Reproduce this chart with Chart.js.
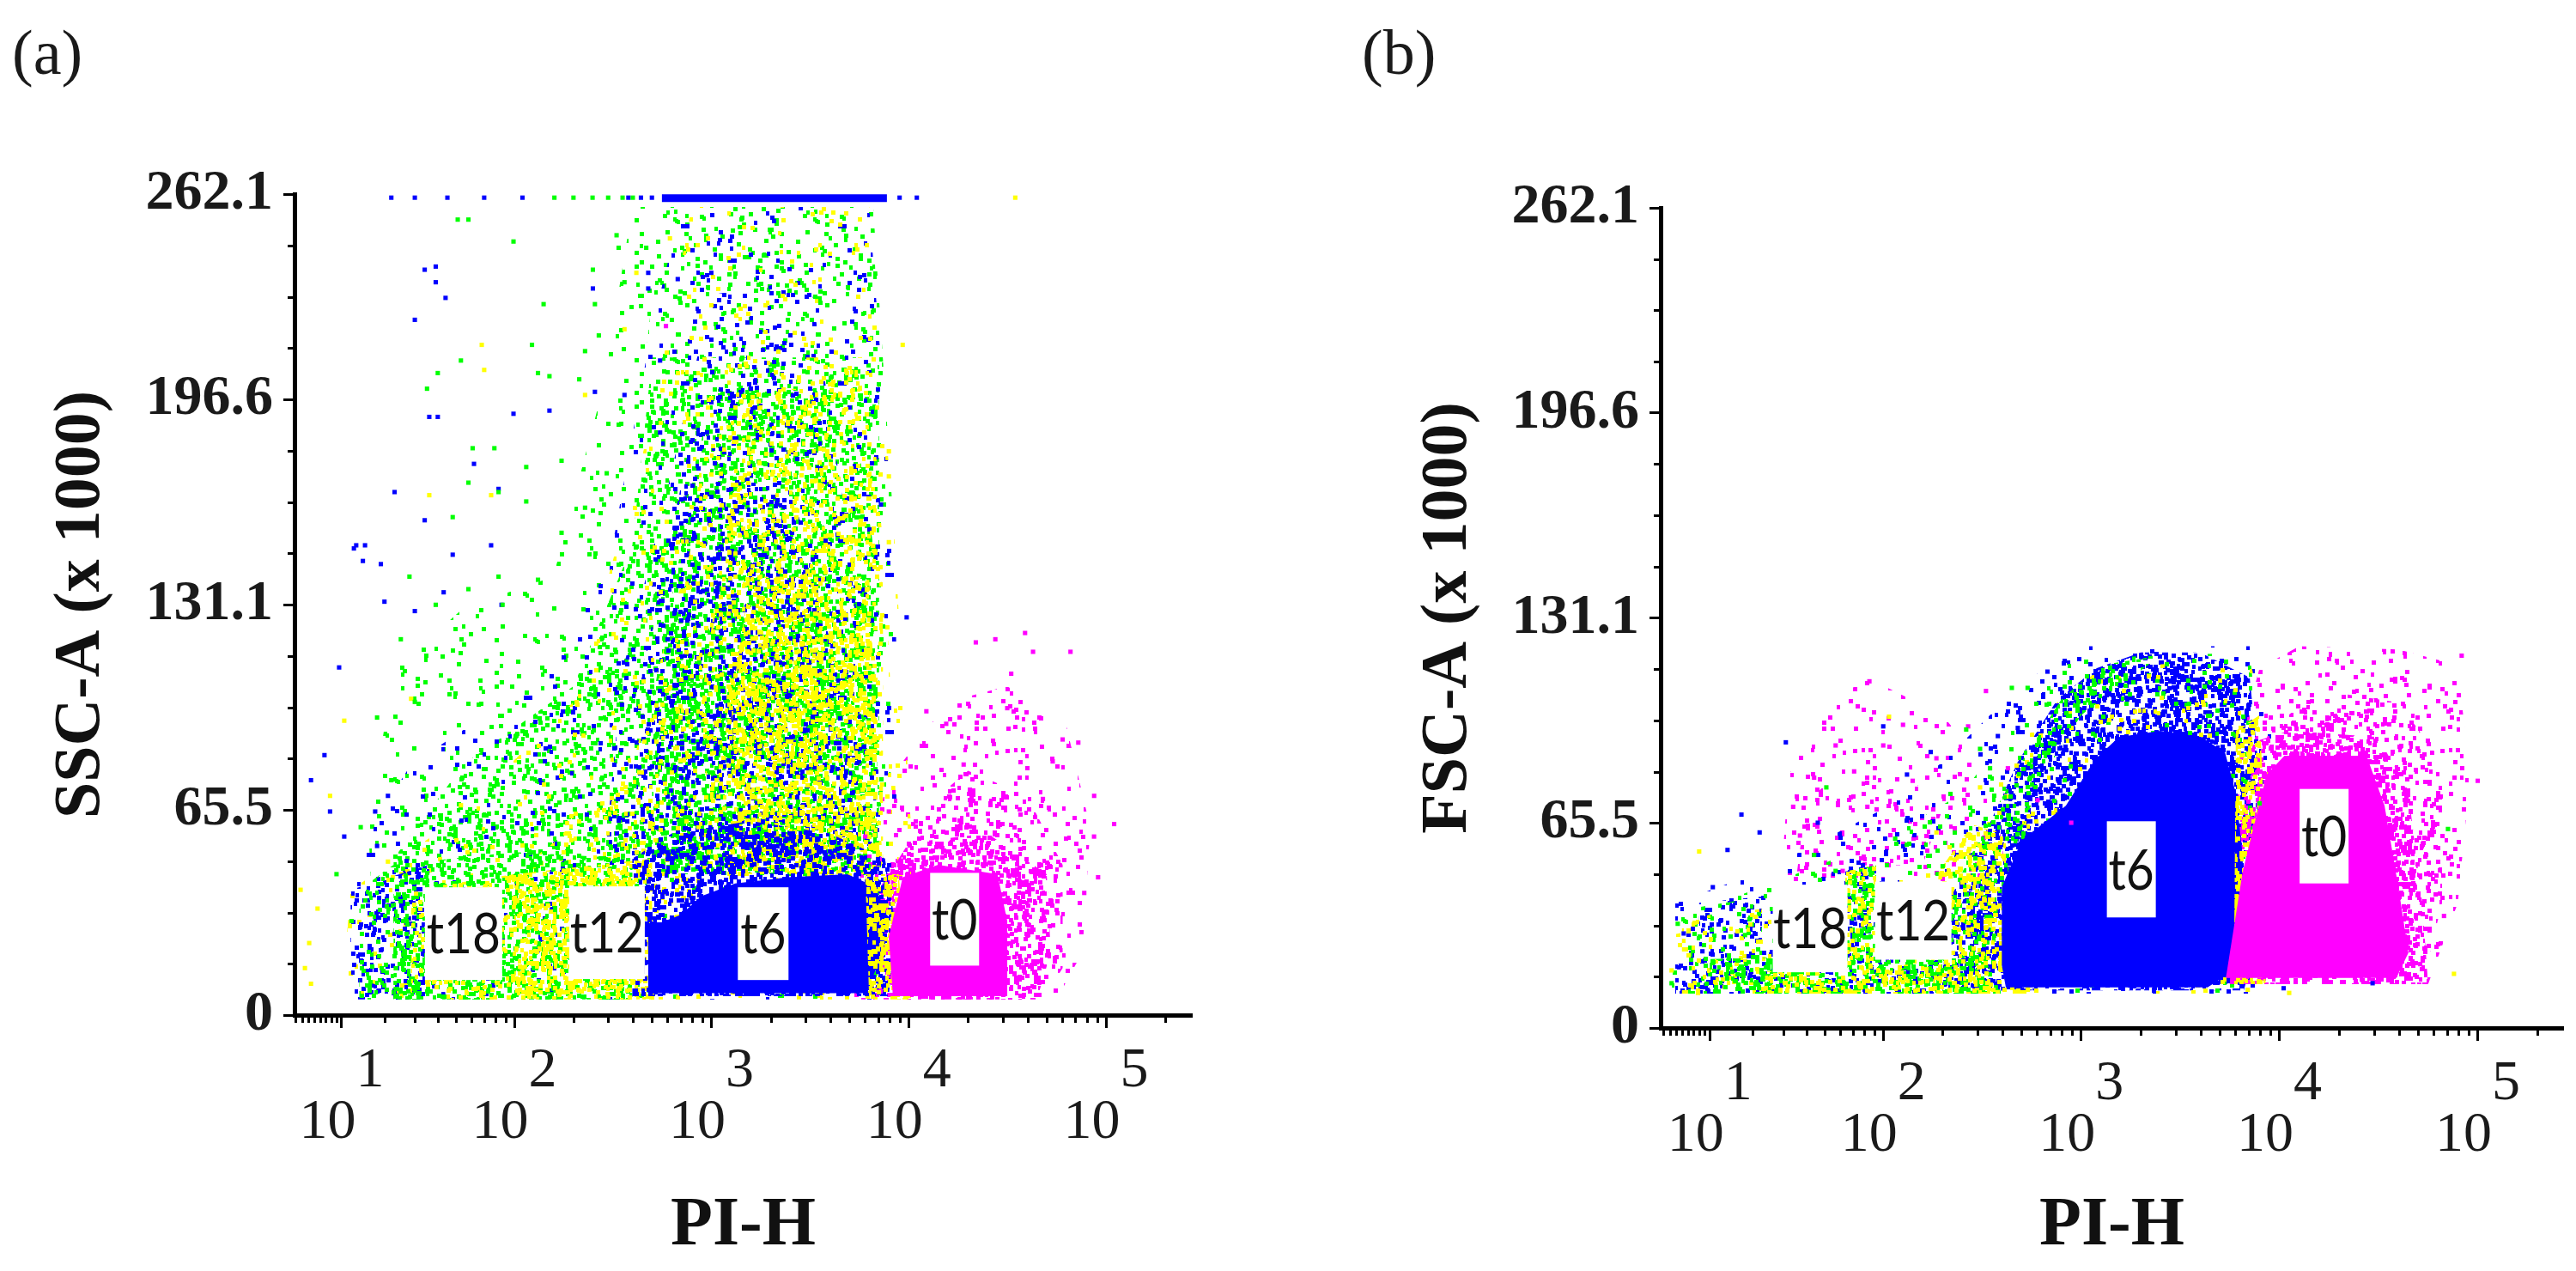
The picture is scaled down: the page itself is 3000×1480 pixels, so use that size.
<!DOCTYPE html>
<html><head><meta charset="utf-8">
<script src="https://cdn.jsdelivr.net/npm/chart.js@4.4.1/dist/chart.umd.min.js"></script>
<style>
html,body{margin:0;padding:0;background:#fff;}
#page{position:relative;width:3000px;height:1480px;overflow:hidden;background:#fff;}
.panel{position:absolute;top:0;width:1500px;height:1480px;}
.tag{position:absolute;top:24px;font-family:"Liberation Serif",serif;font-size:74px;line-height:1;color:#1a1a1a;}
</style></head><body>
<div id="page">
<canvas id="ca" class="panel" style="left:0" width="1500" height="1480"></canvas>
<canvas id="cb" class="panel" style="left:1500px" width="1500" height="1480"></canvas>
<div class="tag" style="left:14px">(a)</div>
<div class="tag" style="left:1586px">(b)</div>
</div>
<script>
// ---------- axis values ----------
const piTicks = [10, 100, 1000, 10000, 100000];
const piTickExp = ['1', '2', '3', '4', '5'];
const sscTicks = [0, 65.536, 131.072, 196.608, 262.144];
const sscTickLabels = ['0', '65.5', '131.1', '196.6', '262.1'];
const populations = ['t0', 't6', 't12', 't18'];

// ---------- panel (a): SSC-A (x1000) vs PI-H, density contours [PI-H, SSC-A] ----------
const ssc_t0_low  = [[5010,5],[5250,40],[7940,75],[15800,100],[31600,105],[63100,92],[83200,60],[75900,20],[56200,5]];
const ssc_t0_mid  = [[6610,5],[6610,35],[10000,62],[20000,78],[39800,70],[60300,48],[60300,15],[47900,5]];
const ssc_t0_high = [[7080,5],[7080,40],[10000,55],[25100,58],[50100,45],[52500,20],[44700,5]];
const ssc_t0_core = [[8320,6],[7940,25],[9330,44],[14100,48],[28200,45],[31600,30],[31600,6]];
const ssc_t6_low  = [[11.8,5],[11.8,50],[28.6,80],[158,110],[316,150],[501,220],[708,258],[6310,258],[8510,150],[8910,60],[9330,5]];
const ssc_t6_left = [[11.8,5],[11.8,40],[35.7,48],[44.3,5]];
const ssc_t6_mid  = [[282,45],[355,110],[562,160],[1000,230],[3160,235],[5010,150],[7080,60],[7080,45]];
const ssc_t6_high = [[398,45],[447,110],[708,170],[2510,170],[3980,120],[6310,45]];
const ssc_t6_near = [[398,6],[398,50],[631,58],[1580,62],[3980,58],[7590,50],[8510,30],[7940,6]];
const ssc_t6_core = [[479,7],[479,28],[700,32],[891,38],[1320,42],[2450,44],[4900,45],[6760,41],[7760,32],[7240,18],[6030,7]];
const ssc_t6_sat  = [[562,259.6],[7760,259.6],[7760,262.1],[562,262.1]];
const ssc_t12_low  = [[10,5],[11.8,40],[44.3,60],[200,100],[501,190],[794,258],[6310,258],[8510,150],[10500,50],[11200,5]];
const ssc_t12_left = [[28.6,5],[28.6,40],[100,45],[100,5]];
const ssc_t12_mid  = [[54.7,5],[61,35],[158,55],[398,80],[794,150],[1000,210],[6310,210],[7590,140],[8910,50],[10000,5]];
const ssc_t12_high = [[1000,45],[891,100],[1260,170],[1580,200],[6310,200],[7410,130],[7410,45]];
const ssc_t12_core = [[1410,45],[1260,100],[1580,140],[6310,140],[7410,45]];
const ssc_t12_band = [[100,5],[100,45],[501,50],[501,5]];
const ssc_t12_edge = [[6310,5],[6030,45],[8910,45],[10000,5]];
const ssc_t18_low  = [[17.9,5],[15.8,60],[22.7,110],[54.7,130],[158,140],[282,200],[398,258],[6610,258],[8510,150],[7940,45],[7080,5]];
const ssc_t18_lband = [[13.7,5],[13.7,40],[22.7,48],[22.7,5]];
const ssc_t18_mid  = [[22.7,5],[22.7,50],[54.7,80],[200,105],[398,150],[501,210],[7080,210],[7080,150],[7080,45],[479,45],[398,5]];
const ssc_t18_top  = [[447,200],[562,258],[6610,258],[7080,200]];
const ssc_t18_high = [[501,45],[501,100],[708,150],[1000,200],[5010,200],[6610,150],[7080,45]];
const ssc_t18_core = [[525,45],[562,130],[6610,130],[7080,45]];
const ssc_t18_band = [[22.7,5],[22.7,48],[100,52],[398,50],[398,5]];

// sparse events, panel (a)
const ssc_t18_dots = [[51,254],[58,254],[99,247],[331,249],[339,245],[468,245],[251,238],[363,234],[141,227],[257,227],[269,217],[123,214],[53,209],[229,212],[40,205],[132,205],[151,204],[35,200],[214,203],[61,181],[79,181],[115,175],[174,177],[58,170],[83,167],[48,159],[115,164],[132,139],[83,140],[28,140],[58,136],[39,131],[87,131],[174,154],[229,162],[295,173],[160,261],[200,261],[250,261],[300,261],[355,261],[400,261],[14,60],[18,95],[22,75],[25,120],[12,30],[9,45],[30,100]];
const ssc_t6_dots = [[39,239],[39,234],[44,229],[30,222],[40,191],[99,192],[151,193],[479,237],[479,232],[251,232],[676,235],[1000,237],[363,198],[550,209],[257,199],[550,186],[62,176],[23,167],[12.5,149],[15,150],[34,158],[48,147],[76,150],[19,144],[43,135],[86,131],[20,132],[13,150],[14.5,145],[9.5,111],[6.8,83],[4.5,75],[7.8,65],[10.5,57],[18,54],[21,70],[34,238],[36,191],[83,168],[30,129],[17.5,65],[9770,127],[7240,163],[22,261],[30,261],[45,261],[70,261],[110,261],[380,261],[440,261],[500,261],[9000,261],[11000,261]];
const ssc_t12_dots = [[68,214],[70,206],[36,166],[76,166],[229,198],[417,237],[363,219],[617,248],[9330,214],[7940,172],[7940,151],[7940,180],[34700,261],[4.2,23],[5.6,34],[7.8,70],[10.5,94],[4.5,10],[28.6,101],[53,67],[21,49],[3.5,15],[2.8,40]];
const ssc_t0_dots = [[21900,119],[27500,120],[38900,122],[66100,116],[72400,87],[53700,81],[47900,69],[87100,70],[110000,61],[31600,98],[15500,93],[12300,97],[9550,78],[19000,80],[60300,88],[87000,57],[91200,44],[77600,39],[6030,57],[7940,65],[33100,109],[42700,116],[589,220]];
const ssc_labelPI  = [54.7, 296, 1832, 17100];
const ssc_labelSSC = [26.0, 26.3, 26.0, 30.6];
const ssc_labelText = ['t18', 't12', 't6', 't0'];

// ---------- panel (b): FSC-A (x1000) vs PI-H ----------
const fsc_t0_left  = [[28.6,40],[32,80],[44.3,100],[82.6,112],[200,100],[355,80],[417,50],[200,42],[82.6,48]];
const fsc_t0_lcore = [[35.7,50],[40,72],[67.2,85],[126,82],[200,70],[158,52],[82.6,52]];
const fsc_t0_low  = [[5010,14],[5620,80],[7940,115],[12600,122],[39800,121],[79400,116],[91200,80],[79400,40],[56200,14]];
const fsc_t0_mid  = [[6030,14],[6310,70],[8910,95],[15800,108],[39800,104],[66100,85],[66100,40],[52500,14]];
const fsc_t0_high = [[5620,14],[6030,60],[7940,92],[11200,95],[31600,93],[44700,75],[52500,40],[56200,14]];
const fsc_t0_core = [[5370,16],[6530,50],[8610,81],[10600,87],[27500,87],[33900,71],[39800,45],[44700,24],[38900,16]];
const fsc_t6_low   = [[3.9,11],[3.9,40],[22.7,50],[100,70],[200,85],[501,110],[1000,122],[7940,122],[9330,90],[9330,11]];
const fsc_t6_band  = [[3.9,11],[3.9,25],[200,25],[224,11]];
const fsc_t6_patch = [[8,11],[8,40],[22.7,42],[22.7,11]];
const fsc_t6_gap   = [[64,12],[64,50],[92,52],[92,12]];
const fsc_t6_left  = [[200,12],[209,40],[316,58],[417,60],[417,12]];
const fsc_t6_mid   = [[224,12],[251,40],[316,60],[479,85],[759,105],[1200,115],[2000,120],[3980,120],[7080,112],[7940,80],[7940,30],[6610,12]];
const fsc_t6_core  = [[417,13],[398,20],[398,45],[501,60],[837,71],[1180,86],[1550,93],[2510,95],[4050,93],[5320,88],[6030,75],[6530,55],[6530,30],[5750,18],[4340,13]];
const fsc_t12_low  = [[2.5,11],[3.9,30],[35.7,38],[158,50],[316,70],[631,100],[1260,115],[7080,118],[8910,90],[9330,11]];
const fsc_t12_patch = [[5,11],[5,35],[22.7,38],[22.7,11]];
const fsc_t12_band = [[22.7,11],[22.7,18],[501,22],[562,11]];
const fsc_t12_gap  = [[64,12],[64,50],[92,52],[92,12]];
const fsc_t12_left = [[178,12],[191,50],[282,65],[417,62],[417,12]];
const fsc_t12_edge = [[5890,14],[6030,95],[7940,100],[8510,60],[8510,14]];
const fsc_t18_low   = [[3.3,11],[3.9,35],[22.7,45],[100,60],[251,75],[501,100],[891,118],[7080,120],[7940,90],[7940,11]];
const fsc_t18_patch = [[6,11],[6,38],[22.7,42],[22.7,11]];
const fsc_t18_band  = [[10,11],[10,22],[316,24],[398,11]];
const fsc_t18_gap   = [[64,12],[64,50],[92,52],[92,12]];
const fsc_t18_slope = [[200,18],[209,40],[316,62],[501,85],[794,105],[1260,116],[2510,119],[1000,100],[631,80],[447,55],[355,30],[316,18]];

const fsc_t18_dots = [[4.3,33.3],[3.3,14.3],[17.9,29.7],[23,16.3],[51,76.9],[57,50.2],[115,60.5],[151,44],[200,51.7],[263,95.4],[447,108.7],[537,108.7],[309,89.2],[7940,71.8],[70800,63.6],[347,83],[219,74.8],[85,31.7],[44,55.3]];
const fsc_t6_dots = [[10.6,45],[13.7,56.9],[17,68.2],[31,91.3],[100,96.4],[46,65.6],[22,62.5],[5.3,30.2],[4.5,19.4],[8.6,24.5],[479,95.9],[676,113.9],[380,93.3],[10500,12.7],[29500,14.3],[132,81],[174,88.2]];
const fsc_t12_dots = [[8,56.4],[7.8,11.2],[3.3,18.4],[107,99.5],[309,76.9],[11200,11.2],[75900,17.3],[27.5,40],[186,62.5],[363,50.2],[6920,12.2]];
const fsc_t0_dots = [[85,110.8],[126,96.9],[100,90.3],[57,90.3],[34,70.7],[44,80],[71,82],[83,70.7],[141,79],[186,86.2],[269,96.4],[331,107.7],[891,65.6],[603,72.8],[427,83],[37,61.5],[62,50.2],[83000,119],[100000,79],[55000,49.2],[67600,35.8],[27500,18.4],[51300,20.4]];
const fsc_labelPI  = [41.9, 142, 1791, 16800];
const fsc_labelFSC = [31.8, 34.3, 50.7, 61.3];
const fsc_labelText = ['t18', 't12', 't6', 't0'];

// ---------- styles ----------
const popStyle = {
  t0:  {color: '#ff00ff', tile: 171, seed: 1},
  t6:  {color: '#0000ff', tile: 183, seed: 2},
  t12: {color: '#ffff00', tile: 197, seed: 3},
  t18: {color: '#00ff00', tile: 163, seed: 4}
};
function frac(v) { return v - Math.floor(v); }
const patternCache = {};
// speckle texture (fill style): perTenK = dots per 10000 px^2
function speckle(pop, perTenK) {
  const st = popStyle[pop];
  const key = pop + '_' + perTenK;
  if (patternCache[key]) return patternCache[key];
  const T = st.tile;
  const c = document.createElement('canvas');
  c.width = T; c.height = T;
  const g = c.getContext('2d');
  g.fillStyle = st.color;
  const n = Math.round(perTenK * T * T / 10000);
  for (let i = 0; i < n; i++) {
    const x = Math.floor(frac(Math.sin((i + 1) * 12.9898 + st.seed * 78.233) * 43758.5453) * T);
    const y = Math.floor(frac(Math.sin((i + 1) * 39.3468 + st.seed * 11.135) * 24634.6345) * T);
    const w = (i % 3 === 0) ? 4 : 5;
    for (const dx of [0, -T]) for (const dy of [0, -T]) g.fillRect(x + dx, y + dy, w, 5);
  }
  return (patternCache[key] = g.createPattern(c, 'repeat'));
}

// ---------- custom biexponential-like (asinh) axis ----------
class AsinhScale extends Chart.Scale {
  static id = 'asinh';
  static defaults = {};
  parse(raw) { const v = +raw; return Number.isFinite(v) ? v : null; }
  determineDataLimits() { this.min = this.options.min; this.max = this.options.max; }
  buildTicks() { return []; }
  getLabelForValue(v) { return String(v); }
  _t(v) { return Math.asinh(v / (this.options.cofactor || 13.5)); }
  getPixelForValue(v) {
    const a = this._t(this.min), b = this._t(this.max);
    return this.getPixelForDecimal((this._t(v) - a) / (b - a));
  }
  getValueForPixel(p) {
    const c = this.options.cofactor || 13.5;
    const a = this._t(this.min), b = this._t(this.max);
    return c * Math.sinh(a + this.getDecimalForPixel(p) * (b - a));
  }
}
Chart.register(AsinhScale);

// minor ticks and gate labels
const piMinor = [];
for (let k = 0; k <= 5; k++) for (let m = 2; m <= 9; m++) piMinor.push(m * Math.pow(10, k));
const sscMinor = [];
for (let j = 1; j < 16; j++) if (j % 4) sscMinor.push(j * 262.144 / 16);

const flowMarks = {
  id: 'flowMarks',
  afterDatasetsDraw(chart, args, opts) {
    const ctx = chart.ctx, xs = chart.scales.x, ys = chart.scales.y;
    ctx.save();
    opts.text.forEach((t, i) => {
      const px = xs.getPixelForValue(opts.xv[i]);
      const py = ys.getPixelForValue(opts.yv[i]);
      const [w, h] = opts.sizes[i];
      ctx.fillStyle = '#ffffff';
      ctx.fillRect(px - w / 2, py - h / 2, w, h);
      ctx.save();
      ctx.translate(px, py + 2);
      ctx.scale(0.86, 1);
      ctx.fillStyle = '#111';
      ctx.font = '66px Lato';
      ctx.textAlign = 'center';
      ctx.textBaseline = 'middle';
      ctx.fillText(t, 0, 0);
      ctx.restore();
    });
    ctx.restore();
  },
  afterDraw(chart) {
    const ctx = chart.ctx, xs = chart.scales.x, ys = chart.scales.y, a = chart.chartArea;
    ctx.save();
    ctx.strokeStyle = '#000';
    ctx.lineWidth = 3;
    ctx.beginPath();
    piMinor.forEach(v => {
      if (v <= xs.min || v >= xs.max) return;
      const px = Math.round(xs.getPixelForValue(v)) + 0.5;
      ctx.moveTo(px, a.bottom); ctx.lineTo(px, a.bottom + 9);
    });
    sscMinor.forEach(v => {
      const py = Math.round(ys.getPixelForValue(v)) + 0.5;
      ctx.moveTo(a.left, py); ctx.lineTo(a.left - 8, py);
    });
    ctx.stroke();
    ctx.restore();
  }
};

function buildChart(id, cfg) {
  const datasets = [];
  const n = cfg.layers.length + cfg.dots.length;
  cfg.layers.forEach(([poly, pop, dens], i) => {
    datasets.push({
      type: 'line', label: pop,
      data: poly.map(p => ({x: p[0], y: p[1]})),
      fill: 'shape',
      backgroundColor: dens ? speckle(pop, dens) : popStyle[pop].color,
      borderColor: 'rgba(0,0,0,0)', borderWidth: 0,
      pointRadius: 0, pointHoverRadius: 0, tension: 0,
      order: n - i + 5
    });
  });
  cfg.dots.forEach(([pts, pop]) => {
    datasets.push({
      type: 'scatter', label: pop,
      data: pts.map(p => ({x: p[0], y: p[1]})),
      pointStyle: 'rect', pointRadius: 3.6, borderWidth: 0,
      backgroundColor: popStyle[pop].color,
      order: 1
    });
  });
  const serif = 'Liberation Serif';
  return new Chart(document.getElementById(id), {
    type: 'scatter',
    data: {datasets},
    plugins: [flowMarks],
    options: {
      responsive: false, animation: false, devicePixelRatio: 1, events: [],
      layout: {padding: {top: cfg.top, left: 0, right: cfg.right, bottom: 0}},
      plugins: {
        legend: {display: false}, tooltip: {enabled: false}, title: {display: false},
        flowMarks: {text: cfg.labelText, xv: cfg.labelX, yv: cfg.labelY, sizes: cfg.labelSizes}
      },
      scales: {
        x: {
          type: 'asinh', position: 'bottom', min: cfg.xMin, max: cfg.xMax, cofactor: 13.5,
          afterBuildTicks: s => { s.ticks = piTicks.map(v => ({value: v})); },
          afterFit: s => { s.height = cfg.xHeight; },
          border: {display: true, color: '#000', width: 5},
          grid: {display: true, drawOnChartArea: false, drawTicks: true, tickLength: 15, tickWidth: 3, tickColor: '#000'},
          ticks: {
            autoSkip: false, maxRotation: 0, minRotation: 0, padding: 20, color: '#1a1a1a',
            font: {family: serif, size: 66, lineHeight: 0.92},
            callback: (v, i) => ['    ' + piTickExp[i], '10  ']
          },
          title: {display: true, text: 'PI-H', color: '#111', font: {family: serif, size: 80, weight: 'bold', lineHeight: 1.2}, padding: {top: 0, bottom: 4}}
        },
        y: {
          type: 'linear', position: 'left', min: 0, max: 262.144,
          afterBuildTicks: s => { s.ticks = sscTicks.map(v => ({value: v})); },
          afterFit: s => { s.width = cfg.yWidth; },
          border: {display: true, color: '#000', width: 5},
          grid: {display: true, drawOnChartArea: false, drawTicks: true, tickLength: 13, tickWidth: 3, tickColor: '#000'},
          ticks: {padding: 12, color: '#1a1a1a', font: {family: serif, size: 66, weight: 'bold'}, callback: (v, i) => sscTickLabels[i]},
          title: {display: true, text: cfg.yTitle, color: '#111', font: {family: serif, size: 76, weight: 'bold', lineHeight: 1.2}, padding: {top: cfg.yTitlePad, bottom: 0}}
        }
      }
    }
  });
}

function init() {
  buildChart('ca', {
    top: 226, right: 112, yWidth: 343, xHeight: 298, xMin: 1.83, xMax: 272300, yTitlePad: 50,
    yTitle: 'SSC-A (x 1000)',
    layers: [
      [ssc_t0_low, 't0', 45], [ssc_t0_mid, 't0', 130],
      [ssc_t18_low, 't18', 30], [ssc_t18_top, 't18', 60], [ssc_t18_mid, 't18', 140], [ssc_t18_high, 't18', 200], [ssc_t18_core, 't18', 300],
      [ssc_t6_low, 't6', 20], [ssc_t6_mid, 't6', 60], [ssc_t6_high, 't6', 130],
      [ssc_t12_low, 't12', 20], [ssc_t12_mid, 't12', 60], [ssc_t12_high, 't12', 120], [ssc_t12_core, 't12', 280],
      [ssc_t6_left, 't6', 140], [ssc_t18_lband, 't18', 100], [ssc_t18_band, 't18', 250], [ssc_t12_left, 't12', 120], [ssc_t12_band, 't12', 300],
      [ssc_t0_high, 't0', 320], [ssc_t6_near, 't6', 320],
      [ssc_t6_core, 't6', 0], [ssc_t12_edge, 't12', 350], [ssc_t0_core, 't0', 0], [ssc_t6_sat, 't6', 0]
    ],
    dots: [[ssc_t18_dots, 't18'], [ssc_t12_dots, 't12'], [ssc_t6_dots, 't6'], [ssc_t0_dots, 't0']],
    labelText: ssc_labelText, labelX: ssc_labelPI, labelY: ssc_labelSSC,
    labelSizes: [[90, 108], [88, 108], [59, 108], [57, 108]]
  });
  buildChart('cb', {
    top: 242, right: 15, yWidth: 434, xHeight: 283, xMin: 1.56, xMax: 269600, yTitlePad: 142,
    yTitle: 'FSC-A (x 1000)',
    layers: [
      [fsc_t0_left, 't0', 30], [fsc_t0_lcore, 't0', 60], [fsc_t0_low, 't0', 50],
      [fsc_t6_low, 't6', 30], [fsc_t6_band, 't6', 150], [fsc_t6_patch, 't6', 120], [fsc_t6_gap, 't6', 120],
      [fsc_t6_left, 't6', 300], [fsc_t6_mid, 't6', 350],
      [fsc_t18_low, 't18', 30], [fsc_t12_low, 't12', 20], [fsc_t18_patch, 't18', 70], [fsc_t12_patch, 't12', 60],
      [fsc_t18_band, 't18', 250], [fsc_t12_band, 't12', 200], [fsc_t18_gap, 't18', 250], [fsc_t12_gap, 't12', 150],
      [fsc_t18_slope, 't18', 150], [fsc_t12_left, 't12', 230],
      [fsc_t0_mid, 't0', 150], [fsc_t0_high, 't0', 350],
      [fsc_t6_core, 't6', 0], [fsc_t12_edge, 't12', 300], [fsc_t0_core, 't0', 0]
    ],
    dots: [[fsc_t18_dots, 't18'], [fsc_t12_dots, 't12'], [fsc_t6_dots, 't6'], [fsc_t0_dots, 't0']],
    labelText: fsc_labelText, labelX: fsc_labelPI, labelY: fsc_labelFSC,
    labelSizes: [[87, 102], [89, 91], [57, 112], [57, 110]]
  });
}

const fontsToLoad = ['66px Lato', '66px "Liberation Serif"', 'bold 66px "Liberation Serif"'];
Promise.all(fontsToLoad.map(f => document.fonts.load(f).catch(() => null))).then(init, init);
</script>
</body></html>
